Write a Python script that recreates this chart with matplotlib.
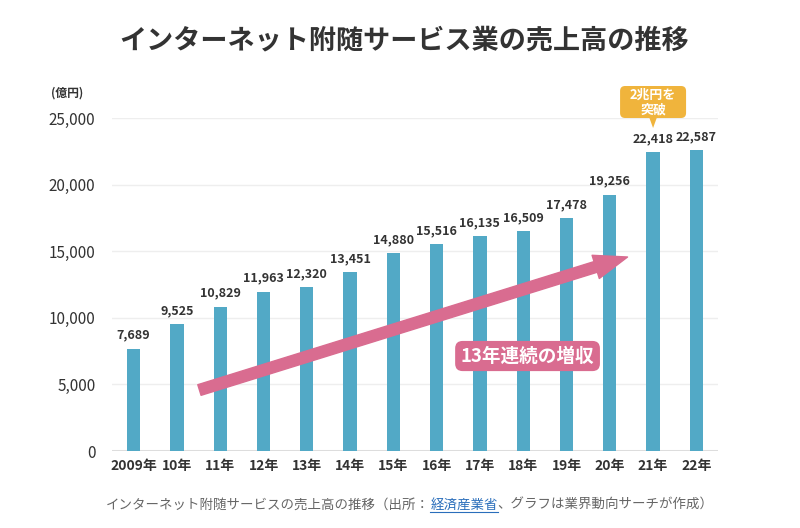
import matplotlib
matplotlib.use('Agg')
import matplotlib.pyplot as plt
import matplotlib.transforms as mtransforms
from matplotlib.patches import FancyBboxPatch, Polygon
import numpy as np

plt.rcParams['font.family'] = ['Noto Sans CJK JP', 'DejaVu Sans']

# data (億円)
years = ['2009年', '10年', '11年', '12年', '13年', '14年', '15年',
         '16年', '17年', '18年', '19年', '20年', '21年', '22年']
sales = [7689, 9525, 10829, 11963, 12320, 13451, 14880,
         15516, 16135, 16509, 17478, 19256, 22418, 22587]
yticks = [0, 5000, 10000, 15000, 20000, 25000]

title = 'インターネット附随サービス業の売上高の推移'
cap_parts = ['インターネット附随サービスの売上高の推移（出所：', '経済産業省',
             '、グラフは業界動向サーチが作成）']

bar_col = '#52a9c6'
pink = '#d96c90'
orange = '#f0b43c'
dark = '#333333'

fig = plt.figure(figsize=(8, 5.28), dpi=100, facecolor='white')
ax = fig.add_axes([0.14, 0.1458, 0.7575, 0.6307])

x = np.arange(len(years))
ax.bar(x, sales, width=0.31, color=bar_col, zorder=2)
for xi, v in zip(x, sales):
    ax.annotate(f'{v:,}', (xi, v), xytext=(0, 5), textcoords='offset points',
                ha='center', va='bottom', fontsize=9, fontweight='bold', color=dark)

ax.set_xlim(-0.5, 13.5)
ax.set_ylim(0, 25000)
ax.set_xticks(x)
ax.set_xticklabels(years, fontsize=10, fontweight='bold', color=dark)
ax.set_yticks(yticks)
ax.set_yticklabels([f'{t:,}' for t in yticks], fontsize=11, color=dark)
ax.tick_params(length=0)
ax.tick_params(axis='y', pad=12)
ax.tick_params(axis='x', pad=6)
for s in ax.spines.values():
    s.set_visible(False)
ax.yaxis.grid(True, color='#eeeeee', lw=1)
ax.set_axisbelow(True)
ax.axhline(0, color='#dddddd', lw=2.2, zorder=1)

# trend arrow
ax.annotate('', xy=(11.41, 14565), xytext=(1.52, 4580),
            arrowprops=dict(arrowstyle='simple,head_length=2.4,head_width=1.75,tail_width=0.8',
                            mutation_scale=10, color=pink, shrinkA=0, shrinkB=0),
            zorder=3, annotation_clip=False)
ax.text(9.1, 7132, '13年連続の増収', ha='center', va='center', fontsize=13.4,
        fontweight='bold', color='white', zorder=4,
        bbox=dict(boxstyle='round,pad=0.3,rounding_size=0.4', fc=pink, ec='none'))

# callout above 2021, drawn in pixels
ident = mtransforms.IdentityTransform()
cx = ax.transData.transform((years.index('21年'), 0))[0]
cy = 528 - 102
bw, bh = 66, 32
fig.add_artist(FancyBboxPatch((cx - bw / 2, cy - bh / 2), bw, bh,
                              boxstyle='round,pad=0,rounding_size=5',
                              fc=orange, ec='none', transform=ident))
fig.add_artist(Polygon([(cx - 4, cy - bh / 2 + 1), (cx + 4, cy - bh / 2 + 1),
                        (cx, cy - bh / 2 - 10)], closed=True, fc=orange, ec='none',
                       transform=ident))
fig.text(cx / 800, cy / 528, '2兆円を\n突破', ha='center', va='center', fontsize=9.3,
         fontweight='bold', color='white', linespacing=1.0)

fig.text(0.505, 1 - 40 / 528, title, ha='center', va='center', fontsize=19.5,
         fontweight='bold', color=dark)
fig.text(0.084, 1 - 93 / 528, '(億円)', ha='center', va='center', fontsize=8.5,
         fontweight='bold', color=dark)

# caption with link part
fig.canvas.draw()
r = fig.canvas.get_renderer()
cols = ['#666666', '#2a6ebb', '#666666']
txts = [fig.text(0, 1 - 505 / 528, p, fontsize=9.7, color=c, va='center')
        for p, c in zip(cap_parts, cols)]
widths = [t.get_window_extent(r).width for t in txts]
x0 = 410 - sum(widths) / 2
for t, w in zip(txts, widths):
    t.set_x(x0 / 800)
    if t.get_text() == cap_parts[1]:
        fig.add_artist(plt.Line2D([x0 / 800, (x0 + w) / 800],
                                  [1 - 512 / 528] * 2, color=cols[1], lw=0.8))
    x0 += w

fig.savefig('out.png', dpi=100, facecolor='white')
